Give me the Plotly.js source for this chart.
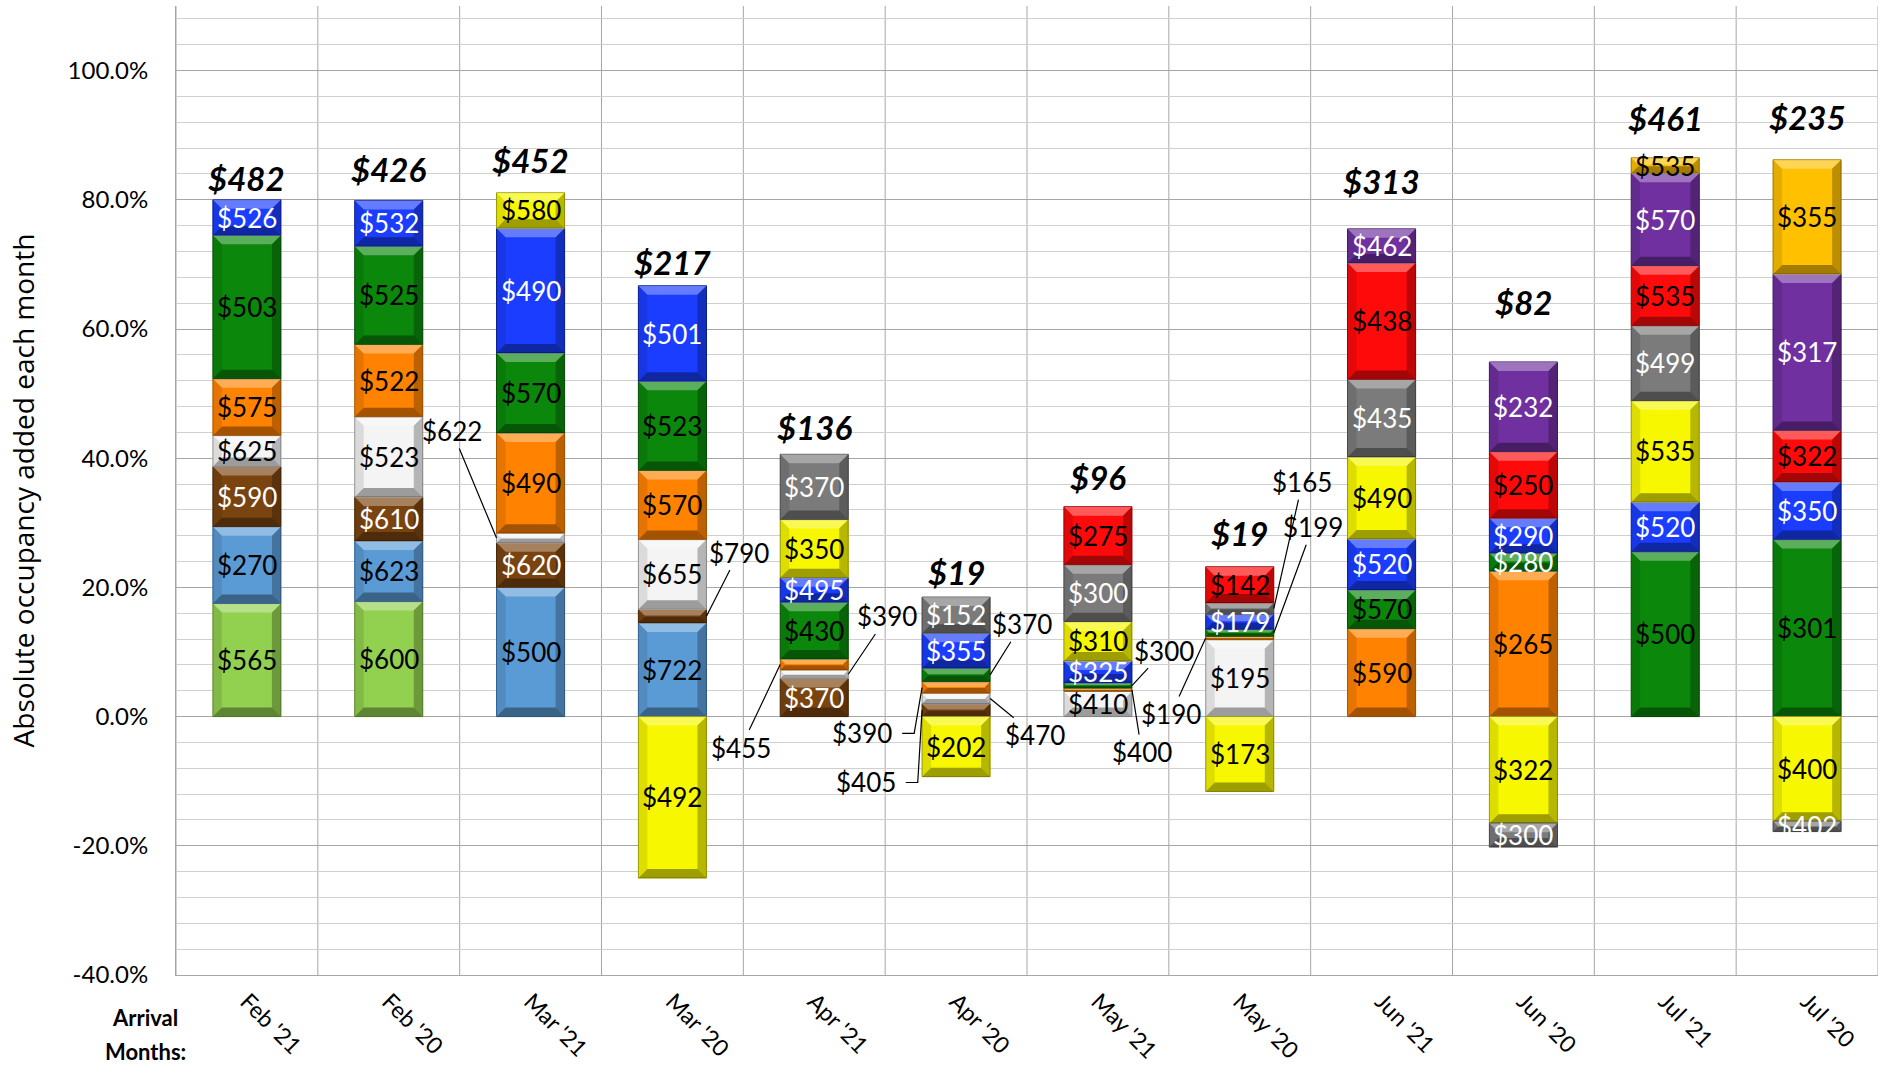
<!DOCTYPE html>
<html>
<head>
<meta charset="utf-8">
<script src="https://cdn.plot.ly/plotly-3.0.1.min.js"></script>
<style>html,body{margin:0;padding:0;background:#fff;}#chart{width:1890px;height:1065px;}</style>
</head>
<body>
<div id="chart"></div>
<script>
const N = null;
const categories = ["Feb '21","Feb '20","Mar '21","Mar '20","Apr '21","Apr '20","May '21","May '20","Jun '21","Jun '20","Jul '21","Jul '20"];

// occupancy added (%) and average rate label per series, per arrival month
const lightGreenPct  = [17.5, 17.8, N, N, N, N, N, N, N, N, N, N];
const lightGreenRate = ['$565','$600', N, N, N, N, N, N, N, N, N, N];
const steelBluePct   = [11.9, 9.4, 20.0, 14.5, N, N, N, N, N, N, N, N];
const steelBlueRate  = ['$270','$623','$500','$722', N, N, N, N, N, N, N, N];
const brownPct       = [9.3, 6.8, 6.9, 2.1, 5.9, 2.0, N, N, N, N, N, N];
const brownRate      = ['$590','$610','$620','$790','$370','$405', N, N, N, N, N, N];
const whitePct       = [4.8, 12.4, 1.5, 10.8, 1.3, 1.6, 3.9, 11.9, N, N, N, N];
const whiteRate      = ['$625','$523','$622','$655','$390','$470','$410','$195', N, N, N, N];
const orangePct      = [8.8, 11.2, 15.5, 10.7, 1.7, 1.8, 0.5, 0.5, 13.6, 22.5, N, N];
const orangeRate     = ['$575','$522','$490','$570','$455','$390','$400','$190','$590','$265', N, N];
const greenPct       = [22.2, 15.2, 12.4, 13.8, 8.8, 2.1, 0.8, 1.1, 6.0, 2.8, 25.5, 27.4];
const greenRate      = ['$503','$525','$570','$523','$430','$370','$300','$199','$570','$280','$500','$301'];
const bluePct        = [5.5, 7.1, 19.3, 14.8, 3.8, 5.4, 3.4, 2.3, 7.9, 5.4, 7.7, 8.9];
const blueRate       = ['$526','$532','$490','$501','$495','$355','$325','$179','$520','$290','$520','$350'];
const yellowPct      = [N, N, 5.5, -25.0, 9.0, -9.3, 6.1, -11.6, 12.7, -16.5, 15.7, -16.2];
const yellowRate     = [N, N, '$580','$492','$350','$202','$310','$173','$490','$322','$535','$400'];
const grayPct        = [N, N, N, N, 10.1, 5.6, 8.8, 1.8, 12.0, -3.7, 11.6, -1.6];
const grayRate       = [N, N, N, N, '$370','$152','$300','$165','$435','$300','$499','$402'];
const redPct         = [N, N, N, N, N, N, 9.0, 5.6, 18.0, 10.3, 9.3, 8.0];
const redRate        = [N, N, N, N, N, N, '$275','$142','$438','$250','$535','$322'];
const purplePct      = [N, N, N, N, N, N, N, N, 5.3, 13.9, 14.3, 24.2];
const purpleRate     = [N, N, N, N, N, N, N, N, '$462','$232','$570','$317'];
const goldPct        = [N, N, N, N, N, N, N, N, N, N, 2.4, 17.7];
const goldRate       = [N, N, N, N, N, N, N, N, N, N, '$535','$355'];
const totalRate      = ['$482','$426','$452','$217','$136','$19','$96','$19','$313','$82','$461','$235'];
const yTickValues    = [-40, -20, 0, 20, 40, 60, 80, 100];

// ---------- styling / layout (not data) ----------
const series = [
  {name:'lightGreen', pct:lightGreenPct, rate:lightGreenRate, fill:'#92d050', edge:'#5f8f2c', txt:'#000'},
  {name:'steelBlue',  pct:steelBluePct,  rate:steelBlueRate,  fill:'#5b9bd5', edge:'#2f6497', txt:'#000'},
  {name:'brown',      pct:brownPct,      rate:brownRate,      fill:'#7a4410', edge:'#4a2706', txt:'#fff'},
  {name:'white',      pct:whitePct,      rate:whiteRate,      fill:'#f4f4f4', edge:'#9a9a9a', txt:'#000'},
  {name:'orange',     pct:orangePct,     rate:orangeRate,     fill:'#ff8300', edge:'#b35a00', txt:'#000'},
  {name:'green',      pct:greenPct,      rate:greenRate,      fill:'#0b870b', edge:'#055205', txt:'#000'},
  {name:'blue',       pct:bluePct,       rate:blueRate,       fill:'#1a3dff', edge:'#0a1f99', txt:'#fff'},
  {name:'yellow',     pct:yellowPct,     rate:yellowRate,     fill:'#f7f700', edge:'#a3a300', txt:'#000'},
  {name:'gray',       pct:grayPct,       rate:grayRate,       fill:'#7b7b7b', edge:'#4a4a4a', txt:'#fff'},
  {name:'red',        pct:redPct,        rate:redRate,        fill:'#ff0a0a', edge:'#a00000', txt:'#000'},
  {name:'purple',     pct:purplePct,     rate:purpleRate,     fill:'#7030a0', edge:'#451c66', txt:'#fff'},
  {name:'gold',       pct:goldPct,       rate:goldRate,       fill:'#ffc000', edge:'#a87e00', txt:'#000'}
];
const whiteTextOverride = {green:[9]}; // Jun '20 green label drawn in white

// labels drawn outside the bar with a leader line: [series, category index, text x, text y, elbow]
const outsideLabels = [
  ['white', 2, 1.446, 44.2, false],
  ['brown', 3, 3.468, 25.4, false],
  ['orange',4, 3.483, -4.8, false],
  ['white', 4, 4.514, 15.5, false],
  ['green', 5, 5.463, 14.3, false],
  ['white', 5, 5.557, -2.9, false],
  ['orange',5, 4.338, -2.6, true],
  ['brown', 5, 4.363, -10.2, true],
  ['green', 6, 6.469, 10.2, false],
  ['orange',6, 6.310, -5.5, false],
  ['orange',7, 6.516, 0.4, false],
  ['gray',  7, 7.442, 36.3, false],
  ['green', 7, 7.514, 29.3, false]
];
const totalLabelY = [83.3, 84.8, 86.2, 70.3, 44.8, 22.4, 37.1, 28.4, 82.9, 64.2, 92.6, 92.8];

const BAR_W = 0.48;
const LABEL_FONT = 'Lato, "Open Sans", sans-serif';
const PLOT_W = 1890 - 176 - 12, PLOT_H = 1065 - 6 - 90;
const PX_X = 12 / PLOT_W;     // data units per pixel (x)
const PX_Y = 150 / PLOT_H;    // data units per pixel (y)
const xIdx = categories.map((c, i) => i);

const isOutside = (name, i) => outsideLabels.some(o => o[0] === name && o[1] === i);

const traces = series.map(s => ({
  type: 'bar',
  name: s.name,
  x: xIdx,
  y: s.pct,
  width: BAR_W,
  marker: {color: s.fill, line: {color: s.edge, width: 1}},
  hoverinfo: 'skip',
  showlegend: false
}));

// stacked extents (relative mode), computed from the data
function segments() {
  const out = [];
  categories.forEach((c, i) => {
    let pos = 0, neg = 0;
    series.forEach(s => {
      const v = s.pct[i];
      if (v == null) return;
      let lo, hi;
      if (v >= 0) { lo = pos; hi = pos + v; pos = hi; }
      else { hi = neg; lo = neg + v; neg = lo; }
      out.push({s, i, lo, hi});
    });
  });
  return out;
}
const segs = segments();

const shapes = [];
for (let k = 0; k <= categories.length; k++) {
  shapes.push({type:'line', xref:'x', yref:'paper', x0:k-0.5, x1:k-0.5, y0:0, y1:1,
    line:{color:'#a6a6a6', width:1}, layer:'below'});
}
// bevel faces on each stacked segment
const poly = pts => 'M' + pts.map(p => p[0].toFixed(4) + ',' + p[1].toFixed(4)).join(' L') + ' Z';
segs.forEach(({lo, hi, i}) => {
  const hPx = (hi - lo) / PX_Y;
  const d = Math.min(9, hPx * 0.45);
  const dx = d * PX_X, dy = d * PX_Y;
  const x0 = i - BAR_W / 2, x1 = i + BAR_W / 2;
  const faces = [
    [[[x0,hi],[x1,hi],[x1-dx,hi-dy],[x0+dx,hi-dy]], 'rgba(255,255,255,0.33)'],
    [[[x0,lo],[x1,lo],[x1-dx,lo+dy],[x0+dx,lo+dy]], 'rgba(0,0,0,0.36)'],
    [[[x0,lo],[x0,hi],[x0+dx,hi-dy],[x0+dx,lo+dy]], 'rgba(0,0,0,0.10)'],
    [[[x1,lo],[x1,hi],[x1-dx,hi-dy],[x1-dx,lo+dy]], 'rgba(0,0,0,0.26)']
  ];
  faces.forEach(([pts, col]) => shapes.push({type:'path', xref:'x', yref:'y', path: poly(pts),
    fillcolor: col, line: {width: 0}, layer: 'above'}));
});

const annotations = [];
// inside labels
segs.forEach(({s, i, lo, hi}) => {
  const r = s.rate[i];
  if (!r || isOutside(s.name, i)) return;
  const col = (whiteTextOverride[s.name] || []).includes(i) ? '#fff' : s.txt;
  annotations.push({xref:'x', yref:'y', x:i, y:(lo+hi)/2, text:r, showarrow:false,
    xanchor:'center', yanchor:'middle', font:{family:LABEL_FONT, size:26, color:col}});
});
// outside labels with leader lines
outsideLabels.forEach(([name, idx, tx, ty, elbow]) => {
  const seg = segs.find(g => g.s.name === name && g.i === idx);
  const side = tx > idx ? 1 : -1;
  const px = idx + side * BAR_W / 2, py = (seg.lo + seg.hi) / 2;
  const txt = seg.s.rate[idx];
  if (elbow) {
    annotations.push({xref:'x', yref:'y', x:tx, y:ty, text:txt, showarrow:false,
      xanchor:'center', yanchor:'middle', font:{family:LABEL_FONT, size:26, color:'#000'}});
    const a = tx + 40 * PX_X, b = tx + 52 * PX_X;
    shapes.push({type:'path', xref:'x', yref:'y', layer:'above',
      path: 'M' + a + ',' + ty + ' L' + b + ',' + ty + ' L' + px + ',' + py,
      line:{color:'#000', width:1.2}});
  } else {
    annotations.push({
      xref:'x', yref:'y', axref:'x', ayref:'y',
      x:px, y:py, ax:tx, ay:ty, text:txt,
      showarrow:true, arrowhead:0, arrowwidth:1.2, arrowcolor:'#000', standoff:0,
      font:{family:LABEL_FONT, size:26, color:'#000'}
    });
  }
});
// totals
categories.forEach((c, i) => {
  annotations.push({
    xref:'x', yref:'y', x:i, y:totalLabelY[i],
    text:'<b><i>' + totalRate[i] + '</i></b>',
    showarrow:false, xanchor:'center', yanchor:'middle',
    font:{family:LABEL_FONT, size:33, color:'#000'}
  });
});
annotations.push({xref:'paper', yref:'paper', x:-0.0182, y:-0.044, text:'<b>Arrival</b>', showarrow:false,
  xanchor:'center', yanchor:'middle', font:{family:LABEL_FONT, size:22, color:'#000'}});
annotations.push({xref:'paper', yref:'paper', x:-0.0182, y:-0.079, text:'<b>Months:</b>', showarrow:false,
  xanchor:'center', yanchor:'middle', font:{family:LABEL_FONT, size:22, color:'#000'}});

const layout = {
  width: 1890, height: 1065,
  margin: {l:176, r:12, t:6, b:90},
  paper_bgcolor: '#fff', plot_bgcolor: '#fff',
  barmode: 'relative',
  font: {family: LABEL_FONT, color: '#000'},
  xaxis: {
    range: [-0.5, 11.5], tickmode: 'array', tickvals: xIdx, ticktext: categories,
    tickangle: 45, showgrid: false, zeroline: false,
    showline: true, linecolor: '#a6a6a6', linewidth: 1, ticks: '',
    tickfont: {family: LABEL_FONT, size: 23, color: '#000'}, ticklabelstandoff: 3
  },
  yaxis: {
    range: [-40, 110], tickmode: 'array', tickvals: yTickValues,
    ticktext: yTickValues.map(v => v.toFixed(1) + '%'),
    tickfont: {family: LABEL_FONT, size: 24, color: '#000'}, ticklabelstandoff: 22,
    showgrid: true, gridcolor: '#a6a6a6', gridwidth: 1,
    minor: {tickmode: 'linear', tick0: 0, dtick: 4, showgrid: true, gridcolor: '#d0d0d0', gridwidth: 1},
    zeroline: true, zerolinecolor: '#a6a6a6', zerolinewidth: 1,
    showline: true, linecolor: '#a6a6a6', linewidth: 1, ticks: '',
    title: {text: 'Absolute occupancy added each month', standoff: 24,
      font: {family: '"Open Sans", sans-serif', size: 28, color: '#000'}},
    automargin: false
  },
  annotations: annotations,
  shapes: shapes,
  showlegend: false
};

Plotly.newPlot('chart', traces, layout, {staticPlot: true, displayModeBar: false});
</script>
</body>
</html>
